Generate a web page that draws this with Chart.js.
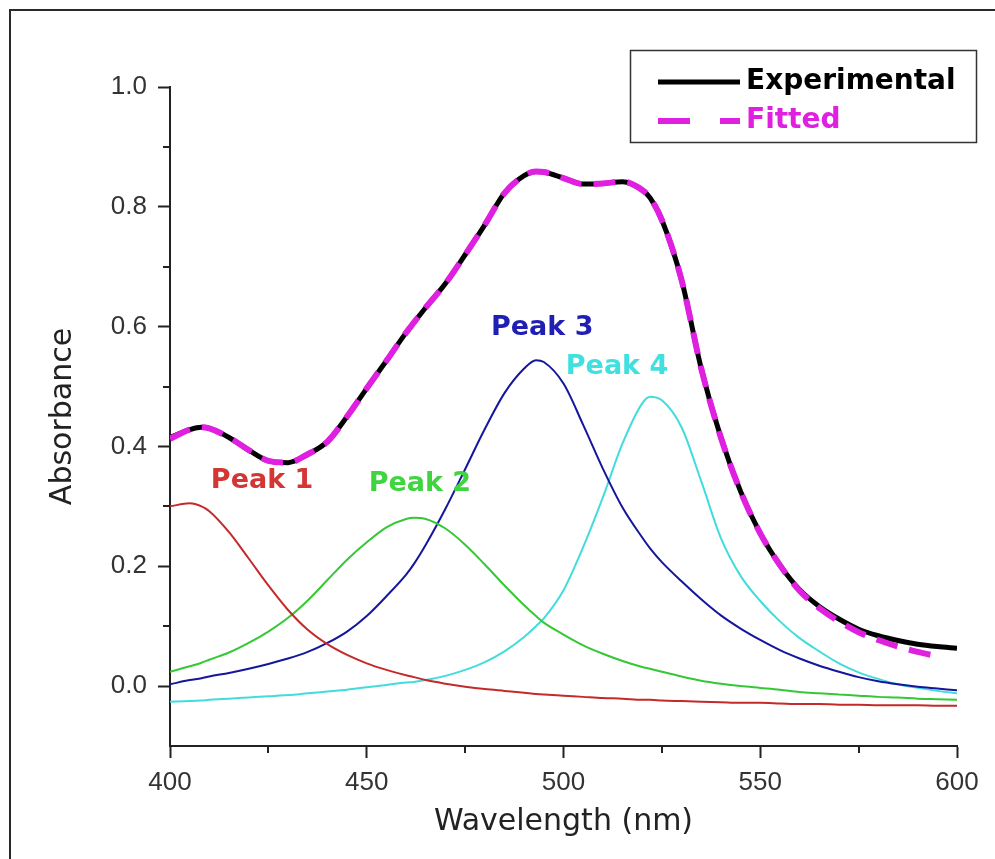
<!DOCTYPE html>
<html><head><meta charset="utf-8">
<script src="https://cdn.jsdelivr.net/npm/chart.js@4.4.1/dist/chart.umd.min.js"></script>
<style>html,body{margin:0;padding:0;background:#fff;overflow:hidden;} canvas{display:block;}</style>
</head><body>
<canvas id="c" width="995" height="859"></canvas>
<script>
// ---- data ----
const wavelength = [400,405,408,410,415,420,425,430,435,440,445,450,455,460,462,465,470,475,480,485,490,493,495,500,505,510,515,520,522,525,530,535,540,545,550,555,560,565,570,575,580,585,590,595,600];
const experimental = [0.415,0.428,0.432,0.430,0.415,0.394,0.376,0.373,0.387,0.408,0.450,0.497,0.543,0.590,0.607,0.632,0.672,0.720,0.770,0.823,0.852,0.859,0.858,0.848,0.838,0.839,0.842,0.828,0.815,0.778,0.678,0.530,0.415,0.325,0.255,0.202,0.161,0.133,0.112,0.095,0.084,0.076,0.070,0.066,0.063];
const fitted = [0.413,0.428,0.432,0.430,0.415,0.394,0.376,0.373,0.387,0.408,0.450,0.497,0.543,0.590,0.607,0.632,0.672,0.720,0.770,0.823,0.852,0.859,0.858,0.848,0.838,0.839,0.842,0.828,0.815,0.778,0.678,0.530,0.415,0.325,0.255,0.202,0.159,0.130,0.108,0.090,0.077,0.066,0.057,0.050,null];
const peak1 = [0.300,0.305,0.300,0.292,0.257,0.213,0.168,0.127,0.094,0.070,0.052,0.038,0.027,0.018,0.015,0.010,0.004,-0.001,-0.005,-0.008,-0.011,-0.013,-0.014,-0.016,-0.018,-0.020,-0.021,-0.023,-0.023,-0.024,-0.025,-0.026,-0.027,-0.028,-0.028,-0.029,-0.030,-0.030,-0.031,-0.031,-0.032,-0.032,-0.032,-0.033,-0.033];
const peak2 = [0.024,0.033,0.039,0.044,0.056,0.072,0.091,0.114,0.143,0.177,0.211,0.240,0.265,0.279,0.281,0.279,0.263,0.236,0.203,0.168,0.135,0.117,0.106,0.086,0.068,0.054,0.042,0.032,0.029,0.024,0.016,0.009,0.004,0.000,-0.003,-0.006,-0.010,-0.012,-0.014,-0.016,-0.018,-0.019,-0.021,-0.022,-0.023];
const peak3 = [0.003,0.010,0.013,0.016,0.022,0.029,0.037,0.046,0.057,0.072,0.091,0.117,0.150,0.186,0.204,0.236,0.296,0.362,0.429,0.489,0.530,0.544,0.541,0.505,0.436,0.363,0.298,0.248,0.230,0.207,0.175,0.145,0.118,0.096,0.077,0.060,0.046,0.034,0.024,0.015,0.008,0.003,-0.001,-0.004,-0.007];
const peak4 = [-0.026,-0.025,-0.024,-0.023,-0.021,-0.019,-0.017,-0.015,-0.012,-0.009,-0.006,-0.002,0.002,0.006,0.007,0.010,0.017,0.027,0.040,0.058,0.082,0.100,0.113,0.160,0.232,0.315,0.405,0.472,0.483,0.477,0.432,0.342,0.247,0.184,0.142,0.108,0.080,0.058,0.038,0.023,0.012,0.003,-0.003,-0.008,-0.012];

const xTicks = [400,450,500,550,600];
const xMinorTicks = [425,475,525,575];
const yTicks = [0.0,0.2,0.4,0.6,0.8,1.0];
const yMinorTicks = [0.1,0.3,0.5,0.7,0.9];

const peakNames = ['Peak 1','Peak 2','Peak 3','Peak 4'];
const peakLabelX = [423.4,463.5,494.6,513.6];
const peakLabelY = [0.342,0.337,0.598,0.533];
const legendNames = ['Experimental','Fitted'];

// ---- styles ----
const C_EXP = '#000000', C_FIT = '#e020e0';
const peakLine = ['#c42a2a','#35c835','#16169c','#42dcdc'];
const peakText = ['#d43535','#40d440','#1f1fb4','#40e0e0'];
const FONT = '"DejaVu Sans", "Liberation Sans", Arial, sans-serif';
const TICKFONT = '"Liberation Sans", Arial, sans-serif';
const AX = '#222';

const pts = arr => wavelength.map((w,i)=>({x:w,y:arr[i]}));

const decor = {
  id:'decor',
  beforeDraw(chart){
    const ctx = chart.ctx;
    ctx.save();
    ctx.fillStyle='#fff'; ctx.fillRect(0,0,chart.width,chart.height);
    ctx.strokeStyle='#2a2a2a'; ctx.lineWidth=2;
    ctx.beginPath(); ctx.moveTo(10,chart.height); ctx.lineTo(10,10); ctx.lineTo(chart.width,10); ctx.stroke();
    ctx.restore();
  },
  afterDraw(chart){
    const ctx = chart.ctx, xs = chart.scales.x, ys = chart.scales.y;
    const ca = chart.chartArea;
    ctx.save();
    // minor ticks
    ctx.strokeStyle=AX; ctx.lineWidth=2;
    ctx.beginPath();
    xMinorTicks.forEach(v=>{const p=Math.round(xs.getPixelForValue(v)); ctx.moveTo(p,ca.bottom); ctx.lineTo(p,ca.bottom+7);});
    yMinorTicks.forEach(v=>{const p=Math.round(ys.getPixelForValue(v)); ctx.moveTo(ca.left-7,p); ctx.lineTo(ca.left,p);});
    ctx.stroke();
    // peak labels
    ctx.font = 'bold 27px ' + FONT;
    ctx.textAlign='center'; ctx.textBaseline='middle';
    peakNames.forEach((t,i)=>{
      ctx.fillStyle = peakText[i];
      ctx.fillText(t, xs.getPixelForValue(peakLabelX[i]), ys.getPixelForValue(peakLabelY[i]));
    });
    // legend box
    ctx.strokeStyle='#333'; ctx.lineWidth=1.5;
    ctx.strokeRect(630.5,50.5,346,92);
    ctx.lineCap='butt';
    ctx.strokeStyle=C_EXP; ctx.lineWidth=5;
    ctx.beginPath(); ctx.moveTo(658,82); ctx.lineTo(740,82); ctx.stroke();
    ctx.strokeStyle=C_FIT; ctx.lineWidth=6; ctx.setLineDash([32,30]);
    ctx.beginPath(); ctx.moveTo(658,121); ctx.lineTo(740,121); ctx.stroke();
    ctx.setLineDash([]);
    ctx.font = 'bold 28px ' + FONT; ctx.textAlign='left'; ctx.textBaseline='middle';
    ctx.fillStyle=C_EXP; ctx.fillText(legendNames[0],746,82);
    ctx.fillStyle=C_FIT; ctx.fillText(legendNames[1],746,121);
    ctx.restore();
  }
};

new Chart(document.getElementById('c'), {
  type:'line',
  data:{datasets:[
    {label:legendNames[1], data:pts(fitted), borderColor:C_FIT, borderWidth:6, borderDash:[22,12], order:0, spanGaps:false},
    {label:legendNames[0], data:pts(experimental), borderColor:C_EXP, borderWidth:5, order:1},
    {label:peakNames[0], data:pts(peak1), borderColor:peakLine[0], borderWidth:2, order:2},
    {label:peakNames[1], data:pts(peak2), borderColor:peakLine[1], borderWidth:2, order:3},
    {label:peakNames[2], data:pts(peak3), borderColor:peakLine[2], borderWidth:2, order:4},
    {label:peakNames[3], data:pts(peak4), borderColor:peakLine[3], borderWidth:2, order:5}
  ]},
  options:{
    responsive:false, animation:false, devicePixelRatio:1,
    layout:{padding:{left:0,right:38,top:87,bottom:0}},
    plugins:{legend:{display:false}, tooltip:{enabled:false}},
    elements:{point:{radius:0}, line:{cubicInterpolationMode:'monotone', fill:false}},
    scales:{
      x:{type:'linear', min:400, max:600,
        afterFit(s){ s.height = 113; },
        afterBuildTicks(s){ s.ticks = xTicks.map(v=>({value:v})); },
        grid:{drawOnChartArea:false, drawTicks:true, tickLength:12, tickWidth:2, tickColor:AX},
        border:{display:true, color:AX, width:2},
        ticks:{padding:9, color:'#333', font:{family:TICKFONT,size:26}, maxRotation:0, autoSkip:false, callback:v=>String(v)},
        title:{display:true, text:'Wavelength (nm)', color:'#222', font:{family:FONT,size:30}, padding:{top:0,bottom:19}}
      },
      y:{type:'linear', min:-0.1, max:1.0,
        afterFit(s){ s.width = 170; },
        afterBuildTicks(s){ s.ticks = yTicks.map(v=>({value:v})); },
        grid:{drawOnChartArea:false, drawTicks:true, tickLength:12, tickWidth:2, tickColor:AX},
        border:{display:true, color:AX, width:2},
        ticks:{padding:11, color:'#333', font:{family:TICKFONT,size:26}, autoSkip:false, callback:v=>Number(v).toFixed(1)},
        title:{display:true, text:'Absorbance', color:'#222', font:{family:FONT,size:30}, padding:{top:45,bottom:0}}
      }
    }
  },
  plugins:[decor]
});
</script>
</body></html>
